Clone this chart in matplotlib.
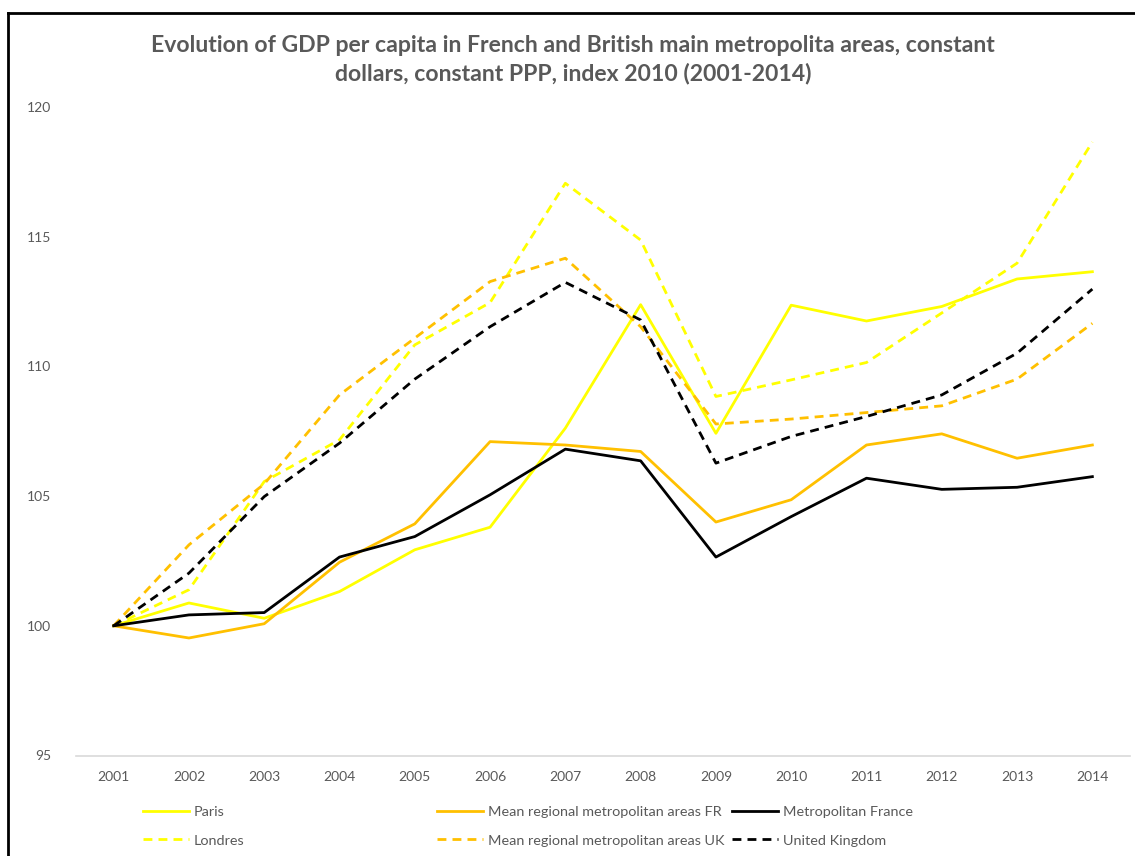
import matplotlib
matplotlib.use("Agg")
import matplotlib.pyplot as plt
from matplotlib.lines import Line2D

years = ["2001", "2002", "2003", "2004", "2005", "2006", "2007",
         "2008", "2009", "2010", "2011", "2012", "2013", "2014"]

paris = [100, 100.88, 100.29, 101.32, 102.93, 103.80, 107.62,
         112.38, 107.42, 112.36, 111.75, 112.31, 113.37, 113.65]
londres = [100, 101.39, 105.56, 107.17, 110.83, 112.46, 117.06,
           114.87, 108.84, 109.48, 110.15, 112.06, 113.98, 118.65]
mean_fr = [100, 99.53, 100.08, 102.45, 103.93, 107.10, 106.97,
           106.72, 104.00, 104.86, 106.97, 107.40, 106.46, 106.97]
metro_fr = [100, 100.42, 100.51, 102.65, 103.44, 105.05, 106.81,
            106.36, 102.65, 104.21, 105.69, 105.26, 105.34, 105.75]
mean_uk = [100, 103.12, 105.47, 108.90, 111.09, 113.27, 114.17,
           111.53, 107.78, 107.97, 108.22, 108.48, 109.51, 111.66]
uk = [100, 102.03, 104.98, 107.04, 109.51, 111.53, 113.24,
      111.79, 106.27, 107.30, 108.07, 108.90, 110.51, 112.98]

labels = ["Paris", "Londres",
          "Mean regional metropolitan areas FR", "Mean regional metropolitan areas UK",
          "Metropolitan France", "United Kingdom"]

YELLOW = "#FFFF00"
ORANGE = "#FFC000"
BLACK = "#000000"
GRAY = "#595959"

plt.rcParams['font.family'] = ['Lato', 'DejaVu Sans']

fig = plt.figure(figsize=(11.35, 8.56), dpi=100)
ax = fig.add_axes([76 / 1135, 1 - 755.5 / 856, (1130 - 76) / 1135, (755.5 - 107) / 856])

x = list(range(len(years)))
lw = 2.0
dash = (0, (3.2, 2.2))
series = [
    (paris, YELLOW, "-"),
    (londres, YELLOW, dash),
    (mean_fr, ORANGE, "-"),
    (mean_uk, ORANGE, dash),
    (metro_fr, BLACK, "-"),
    (uk, BLACK, dash),
]
handles = []
for (vals, col, ls), lab in zip(series, labels):
    h, = ax.plot(x, vals, color=col, linestyle=ls, linewidth=lw, label=lab)
    handles.append(h)

ax.set_xlim(-0.5, len(years) - 0.5)
ax.set_ylim(95, 120)
ax.set_yticks([95, 100, 105, 110, 115, 120])
ax.set_xticks(x)
ax.set_xticklabels(years)
for s in ["top", "right", "left"]:
    ax.spines[s].set_visible(False)
ax.spines["bottom"].set_color("#D9D9D9")
ax.spines["bottom"].set_linewidth(1.2)
ax.tick_params(axis="both", length=0, colors=GRAY, labelsize=10)
ax.tick_params(axis="y", pad=18)
ax.tick_params(axis="x", pad=11)

fig.text(0.505, 1 - 45 / 856, "Evolution of GDP per capita in French and British main metropolita areas, constant",
         ha="center", va="center", fontsize=16.6, fontweight="bold", color=GRAY)
fig.text(0.505, 1 - 74 / 856, "dollars, constant PPP, index 2010 (2001-2014)",
         ha="center", va="center", fontsize=16.6, fontweight="bold", color=GRAY)

# Legends: three columns of two entries
col_x = [143, 437, 732]
for i, cx in enumerate(col_x):
    hs = handles[2 * i:2 * i + 2]
    leg = fig.legend(hs, [h.get_label() for h in hs], loc="upper left",
                     bbox_to_anchor=(cx / 1135, 1 - 806 / 856), frameon=False,
                     fontsize=10.4, handlelength=3.2, handletextpad=0.3,
                     labelspacing=1.13, borderpad=0, borderaxespad=0,
                     labelcolor=GRAY)

# Chart border (left and top visible)
fig.add_artist(Line2D([8 / 1135, 8 / 1135], [0, 1 - 13 / 856], transform=fig.transFigure,
                      color="black", linewidth=2))
fig.add_artist(Line2D([8 / 1135, 1], [1 - 13 / 856, 1 - 13 / 856], transform=fig.transFigure,
                      color="black", linewidth=2))

fig.savefig("out.png", dpi=100)
